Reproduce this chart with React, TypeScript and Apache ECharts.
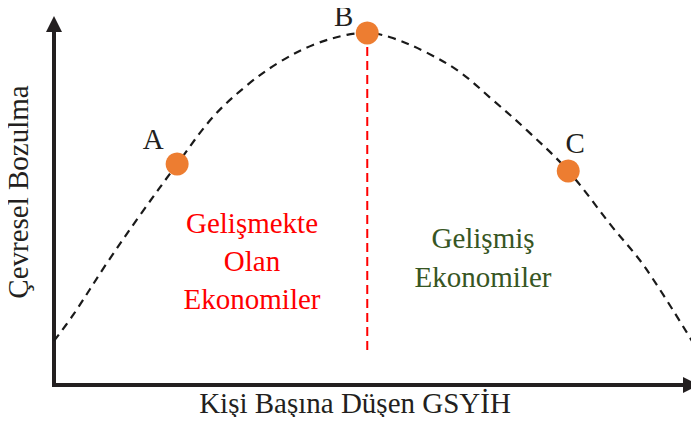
import React, { useEffect, useRef } from "react";
import * as echarts from "echarts";

// Curve (axes 0..100)
const curveX = [0, 3.0, 8.3, 13.5, 19.3, 24.9, 30.3, 35.4, 40.6, 45.9, 49.1, 53.1, 58.5, 63.6, 68.8, 74.1, 80.6, 87.5, 92.6, 100];
const curveY = [12.2, 19.4, 33.8, 47.1, 61.2, 74.2, 83.1, 89.5, 94.2, 97.0, 97.5, 96.1, 92.0, 86.7, 78.9, 70.6, 59.3, 43.8, 32.7, 12.2];

// Marked points
const pointNames = ["A", "B", "C"];
const pointX = [19.3, 49.1, 80.6];
const pointY = [61.2, 97.5, 59.3];

// Divider line (B vertical)
const dividerX = [49.1, 49.1];
const dividerY = [93.6, 9.7];

const xTitle = "Kişi Başına Düşen GSYİH";
const yTitle = "Çevresel Bozulma";
const leftRegion = ["Gelişmekte", "Olan", "Ekonomiler"];
const rightRegion = ["Gelişmiş", "Ekonomiler"];

const FAMILY = "Liberation Serif";
const SIZE = 29;

function txt(text: string, x: number, y: number, fill: string, rotation = 0) {
  return {
    type: "text",
    x,
    y,
    rotation,
    style: {
      text,
      fontFamily: FAMILY,
      fontSize: SIZE,
      fill,
      textAlign: "center",
      textVerticalAlign: "middle",
    },
  };
}

export default function App() {
  const ref = useRef<HTMLDivElement>(null);
  useEffect(() => {
    if (!ref.current) return;
    const chart = echarts.init(ref.current, undefined, { renderer: "svg" });
    const labelOffsets: Record<string, number[]> = { A: [-24, -25], B: [-23.5, -17], C: [7, -28] };
    const mkAxisLine = (off: number) => ({
      show: true,
      symbol: ["none", "triangle"],
      symbolSize: [16, 16],
      symbolOffset: [0, off],
      lineStyle: { color: "#231F20", width: 4, cap: "square" },
    });
    chart.setOption({
      animation: false,
      grid: { left: 54, right: 7, top: 24, bottom: 40, containLabel: false },
      xAxis: {
        type: "value",
        min: 0,
        max: 100,
        axisLine: mkAxisLine(-1),
        axisTick: { show: false },
        axisLabel: { show: false },
        splitLine: { show: false },
      },
      yAxis: {
        type: "value",
        min: 0,
        max: 100,
        axisLine: mkAxisLine(0),
        axisTick: { show: false },
        axisLabel: { show: false },
        splitLine: { show: false },
      },
      series: [
        {
          type: "line",
          data: curveX.map((x, i) => [x, curveY[i]]),
          smooth: 0.35,
          showSymbol: false,
          clip: false,
          lineStyle: { color: "#1a1a1a", width: 2.2, type: [8, 6] },
          z: 2,
        },
        {
          type: "line",
          data: dividerX.map((x, i) => [x, dividerY[i]]),
          showSymbol: false,
          lineStyle: { color: "#FF0000", width: 2, type: [9, 5] },
          z: 1,
        },
        {
          type: "scatter",
          symbolSize: 23,
          itemStyle: { color: "#ED7D31", opacity: 1 },
          z: 5,
          data: pointNames.map((n, i) => ({
            name: n,
            value: [pointX[i], pointY[i]],
            label: {
              show: true,
              position: "inside",
              offset: labelOffsets[n],
              formatter: n,
              color: "#231F20",
              fontFamily: FAMILY,
              fontSize: SIZE,
            },
          })),
        },
      ],
      graphic: [
        txt(xTitle, 355, 403, "#231F20"),
        txt(yTitle, 18, 192, "#231F20", Math.PI / 2),
        ...leftRegion.map((t, i) => txt(t, 252, 223 + i * 38, "#FF0000")),
        ...rightRegion.map((t, i) => txt(t, 483, 238 + i * 39, "#375623")),
      ],
    });
    return () => chart.dispose();
  }, []);
  return <div ref={ref} style={{ width: 699, height: 425, margin: -8 }} />;
}
